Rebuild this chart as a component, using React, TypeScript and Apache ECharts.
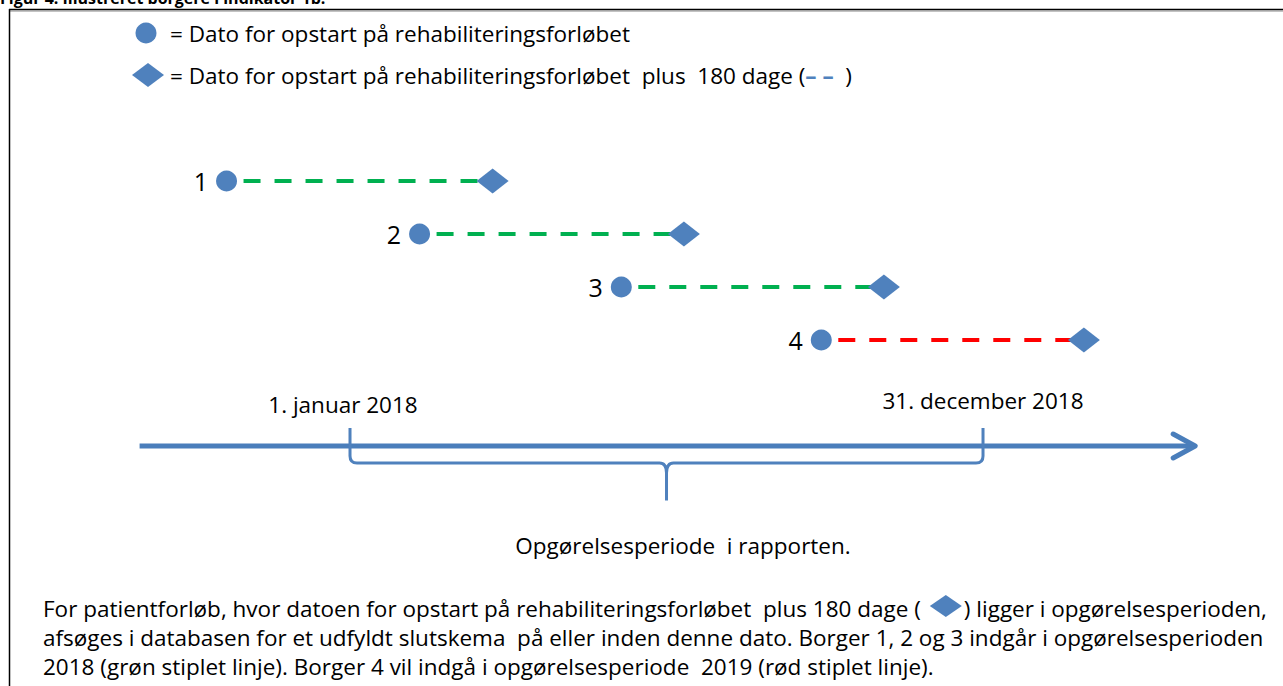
import React, { useEffect, useRef } from "react";
import * as echarts from "echarts";

// ---- data (days counted from 1. januar 2018) ----
const citizens = ["1", "2", "3", "4"];
const startDay = [-71, 40, 156, 271];
const endDay = [82, 192, 307, 422];
const lineColors = ["#00B050", "#00B050", "#00B050", "#FF0000"];
const periodStart = 0; // 1. januar 2018
const periodEnd = 364; // 31. december 2018
const periodLabels = ["1. januar 2018", "31. december 2018"];
const timelineRange = [-121, 486];

const legendTexts = [
  "= Dato for opstart på rehabiliteringsforløbet",
  "= Dato for opstart på rehabiliteringsforløbet  plus  180 dage (",
];
const periodCaption = "Opgørelsesperiode  i rapporten.";
const figureTitle = "Figur 4. Illustreret borgere i indikator 1b.";
const footLines = [
  "For patientforløb, hvor datoen for opstart på rehabiliteringsforløbet  plus 180 dage (",
  ") ligger i opgørelsesperioden,",
  "afsøges i databasen for et udfyldt slutskema  på eller inden denne dato. Borger 1, 2 og 3 indgår i opgørelsesperioden",
  "2018 (grøn stiplet linje). Borger 4 vil indgå i opgørelsesperiode  2019 (rød stiplet linje).",
];

const BLUE = "#4F81BD";
const FONT = "'Open Sans', Lato, sans-serif";
const FS = 22.5;
const TIMELINE_ROW = 6;
const TICK_TOP_ROW = 5.66;
const BRACE_ROW = 6.32;
const BRACE_TIP_ROW = 7.03;
const LABEL_ROW = 5.22;

function measure(text: string): number {
  const c = document.createElement("canvas");
  const ctx = c.getContext("2d");
  if (!ctx) return text.length * FS * 0.5;
  ctx.font = `${FS}px ${FONT}`;
  return ctx.measureText(text).width;
}

export default function App() {
  const ref = useRef<HTMLDivElement>(null);

  useEffect(() => {
    if (!ref.current) return;
    const chart = echarts.init(ref.current, undefined, { renderer: "svg" });

    const lineSeries = citizens.map((c, i) => ({
      type: "line",
      name: "forløb " + c,
      data: [
        [startDay[i], i + 1],
        [endDay[i], i + 1],
      ],
      showSymbol: false,
      symbol: "none",
      silent: true,
      z: 2,
      lineStyle: { color: lineColors[i], width: 4, type: [17, 14], dashOffset: 14 },
    }));

    const footX = 43;
    const wA = measure(footLines[0]);
    const dcx = footX + wA + 25;
    const bX = dcx + 18;

    const option: any = {
      animation: false,
      backgroundColor: "#ffffff",
      grid: { left: 2.2, width: 1269.5, top: 128, height: 424 },
      xAxis: { type: "value", min: -200, max: 530, show: false },
      yAxis: { type: "value", min: 0, max: 8, inverse: true, show: false },
      series: [
        ...lineSeries,
        {
          type: "scatter",
          name: "start",
          data: citizens.map((c, i) => [startDay[i], i + 1, c]),
          symbol: "circle",
          symbolSize: 21,
          z: 3,
          itemStyle: { color: BLUE, opacity: 1 },
          label: {
            show: true,
            position: "left",
            distance: 8,
            formatter: (p: any) => p.value[2],
            fontSize: 25,
            color: "#000",
            fontFamily: FONT,
          },
        },
        {
          type: "scatter",
          name: "slut",
          data: citizens.map((c, i) => [endDay[i], i + 1]),
          symbol: "diamond",
          symbolSize: [32, 25],
          z: 3,
          itemStyle: { color: BLUE, opacity: 1 },
        },
        {
          type: "custom",
          name: "tidslinje",
          silent: true,
          z: 1,
          data: [[timelineRange[0], timelineRange[1], periodStart, periodEnd]],
          renderItem: (params: any, api: any) => {
            const a = api.coord([api.value(0), TIMELINE_ROW]);
            const b = api.coord([api.value(1), TIMELINE_ROW]);
            const p0 = api.coord([api.value(2), TICK_TOP_ROW]);
            const p1 = api.coord([api.value(3), TICK_TOP_ROW]);
            const by = api.coord([0, BRACE_ROW])[1];
            const ty = api.coord([0, BRACE_TIP_ROW])[1];
            const ly = api.coord([0, LABEL_ROW])[1];
            const x0 = p0[0];
            const x1 = p1[0];
            const top = p0[1];
            const mid = (x0 + x1) / 2;
            const r = 7;
            const d =
              `M${x0},${top} L${x0},${by - r} Q${x0},${by} ${x0 + r},${by} L${mid - r},${by} Q${mid},${by} ${mid},${by + 10} L${mid},${ty} ` +
              `M${mid},${by + 10} Q${mid},${by} ${mid + r},${by} L${x1 - r},${by} Q${x1},${by} ${x1},${by - r} L${x1},${top}`;
            return {
              type: "group",
              children: [
                {
                  type: "line",
                  shape: { x1: a[0], y1: a[1], x2: b[0] - 2, y2: b[1] },
                  style: { stroke: "#4A7EBB", lineWidth: 5 },
                },
                {
                  type: "polyline",
                  shape: {
                    points: [
                      [b[0] - 22, b[1] - 12],
                      [b[0], b[1]],
                      [b[0] - 22, b[1] + 12],
                    ],
                  },
                  style: { stroke: "#4A7EBB", lineWidth: 5, fill: null, lineCap: "round", lineJoin: "round" },
                },
                {
                  type: "path",
                  shape: { pathData: d },
                  style: { stroke: BLUE, lineWidth: 3, fill: null },
                },
                {
                  type: "text",
                  x: x0 - 7,
                  y: ly,
                  style: {
                    text: periodLabels[0],
                    fontSize: FS,
                    fontFamily: FONT,
                    fill: "#000",
                    align: "center",
                    verticalAlign: "middle",
                  },
                },
                {
                  type: "text",
                  x: x1,
                  y: ly - 4,
                  style: {
                    text: periodLabels[1],
                    fontSize: FS,
                    fontFamily: FONT,
                    fill: "#000",
                    align: "center",
                    verticalAlign: "middle",
                  },
                },
              ],
            };
          },
        },
      ],
      graphic: [
        // frame
        { type: "line", shape: { x1: 9, y1: 9.5, x2: 1283, y2: 9.5 }, style: { stroke: "#000", lineWidth: 1.5 } },
        { type: "line", shape: { x1: 9, y1: 11, x2: 1283, y2: 11 }, style: { stroke: "#888", lineWidth: 1 } },
        { type: "line", shape: { x1: 9.5, y1: 9, x2: 9.5, y2: 686 }, style: { stroke: "#000", lineWidth: 1.5 } },
        {
          type: "text",
          x: 0,
          y: 6,
          style: { text: figureTitle, fontSize: 16, fontWeight: "bold", fontFamily: FONT, fill: "#000", verticalAlign: "bottom" },
        },
        // legend
        { type: "circle", shape: { cx: 146, cy: 33, r: 10.5 }, style: { fill: BLUE } },
        {
          type: "text",
          x: 170,
          y: 33,
          style: { text: legendTexts[0], fontSize: FS, fontFamily: FONT, fill: "#000", verticalAlign: "middle" },
        },
        {
          type: "polygon",
          shape: { points: [[132, 75], [148, 63], [164, 75], [148, 87]] },
          style: { fill: BLUE },
        },
        {
          type: "text",
          x: 170,
          y: 75,
          style: {
            text: legendTexts[1] + "{d|– –}  )",
            fontSize: FS,
            fontFamily: FONT,
            fill: "#000",
            verticalAlign: "middle",
            rich: { d: { fontSize: FS, fontFamily: FONT, fill: BLUE, fontWeight: "bold" } },
          },
        },
        // caption
        {
          type: "text",
          x: 683,
          y: 545,
          style: { text: periodCaption, fontSize: FS, fontFamily: FONT, fill: "#000", align: "center", verticalAlign: "middle" },
        },
        // footnote
        {
          type: "text",
          x: footX,
          y: 608,
          style: { text: footLines[0], fontSize: FS, fontFamily: FONT, fill: "#000", verticalAlign: "middle" },
        },
        {
          type: "polygon",
          shape: { points: [[dcx - 16, 606], [dcx, 595], [dcx + 16, 606], [dcx, 617]] },
          style: { fill: BLUE },
        },
        {
          type: "text",
          x: bX,
          y: 608,
          style: { text: footLines[1], fontSize: FS, fontFamily: FONT, fill: "#000", verticalAlign: "middle" },
        },
        {
          type: "text",
          x: footX,
          y: 637,
          style: { text: footLines[2], fontSize: FS, fontFamily: FONT, fill: "#000", verticalAlign: "middle" },
        },
        {
          type: "text",
          x: footX,
          y: 666,
          style: { text: footLines[3], fontSize: FS, fontFamily: FONT, fill: "#000", verticalAlign: "middle" },
        },
      ],
    };

    chart.setOption(option);
    return () => chart.dispose();
  }, []);

  return (
    <div
      ref={ref}
      style={{ position: "absolute", left: 0, top: 0, width: 1283, height: 686, background: "#fff" }}
    />
  );
}
